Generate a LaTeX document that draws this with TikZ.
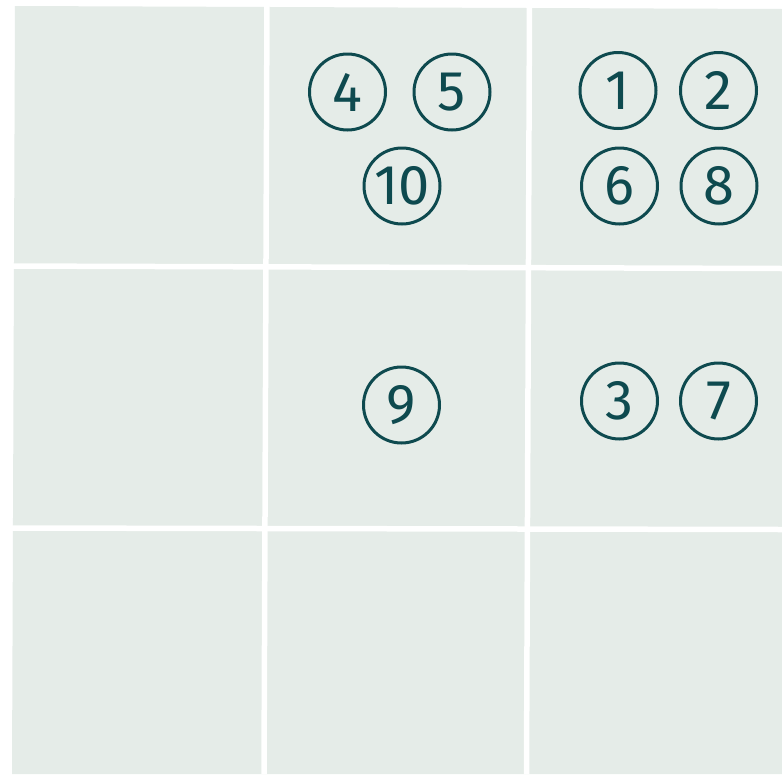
\documentclass[tikz,border=0pt]{standalone}
\usepackage{fontspec}
\setmainfont{Fira Sans}
\definecolor{cellfill}{HTML}{E5ECE8}
\definecolor{ink}{HTML}{0E4A4F}
\begin{document}
\begin{tikzpicture}[x=1pt,y=-1pt,
  gap/.style={draw=white,line width=5.5pt},
  num/.style={circle,draw=ink,line width=3pt,minimum size=76pt,inner sep=0pt,
    text=ink,font=\fontsize{56}{56}\selectfont}]
\useasboundingbox (0,0) rectangle (782,774);
\fill[white] (0,0) rectangle (782,774);
% grid of cells
\fill[cellfill] (15,6) -- (782,9) -- (782,774) -- (12,774) -- cycle;
\draw[gap] (267,0) -- (264,774);
\draw[gap] (529.5,0) -- (526.5,774);
\draw[gap] (0,266) -- (782,268.5);
\draw[gap] (0,528) -- (782,529.5);
% numbered circles
\node[num] (n4) at (347.5,92) {4};
\node[num] (n5) at (452,92) {5};
\node[num] (n10) at (402,186) {10};
\node[num] (n1) at (618,90.5) {1};
\node[num] (n2) at (718.5,90.5) {2};
\node[num] (n6) at (619.5,186) {6};
\node[num] (n8) at (719,186) {8};
\node[num] (n9) at (401.5,405) {9};
\node[num] (n3) at (619.5,401) {3};
\node[num] (n7) at (718.5,401) {7};
\end{tikzpicture}
\end{document}
